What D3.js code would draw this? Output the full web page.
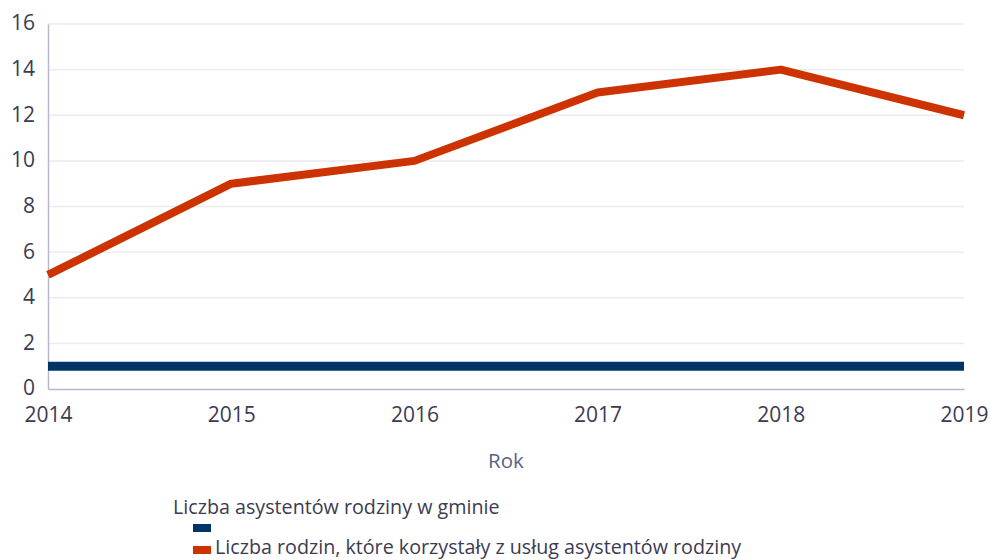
<!DOCTYPE html>
<html><head><meta charset="utf-8">
<script src="https://cdn.jsdelivr.net/npm/d3@7"></script>
<style>
body{margin:0;background:#fff;}
svg{display:block;font-family:"Open Sans",sans-serif;}
</style></head>
<body>
<svg id="chart" width="991" height="560"></svg>
<script>
const years = [2014, 2015, 2016, 2017, 2018, 2019];
const asystenci = [1, 1, 1, 1, 1, 1];
const rodziny = [5, 9, 10, 13, 14, 12];
const yTicks = [0, 2, 4, 6, 8, 10, 12, 14, 16];
const seriesNames = ["Liczba asystentów rodziny w gminie", "Liczba rodzin, które korzystały z usług asystentów rodziny"];
const seriesColors = ["#003366", "#cc3300"];
const xTitle = "Rok";

const svg = d3.select("#chart");
const x = d3.scalePoint().domain(years).range([48, 964]);
const y = d3.scaleLinear().domain([0, 16]).range([389, 24]);

// grid
svg.append("g").selectAll("line").data(yTicks.filter(d => d > 0)).join("line")
  .attr("x1", 48).attr("x2", 964)
  .attr("y1", d => y(d)).attr("y2", d => y(d))
  .attr("stroke", "#ebebf0").attr("stroke-width", 1.5);

// axes
const yAxis = svg.append("g").attr("transform", "translate(48,0)")
  .call(d3.axisLeft(y).tickValues(yTicks).tickSize(0).tickPadding(13));
yAxis.select(".domain").attr("stroke", "#b8b8cc").attr("stroke-width", 1.5);
yAxis.selectAll("text").attr("font-size", 21).attr("fill", "#3b3b52")
  .attr("font-family", "Open Sans").attr("dy", "0.28em");

const xAxis = svg.append("g").attr("transform", "translate(0,389)")
  .call(d3.axisBottom(x).tickSize(0).tickPadding(18.5));
xAxis.select(".domain").attr("stroke", "#b8b8cc").attr("stroke-width", 1.5);
xAxis.selectAll("text").attr("font-size", 21).attr("fill", "#3b3b52").attr("font-family", "Open Sans");

svg.append("text").attr("x", 506).attr("y", 468).attr("text-anchor", "middle")
  .attr("font-size", 20.5).attr("fill", "#5a5f86").text(xTitle);

// lines
const line = d3.line().x((d, i) => x(years[i])).y(d => y(d));
[asystenci, rodziny].forEach((s, i) => {
  svg.append("path").datum(s).attr("d", line)
    .attr("fill", "none").attr("stroke", seriesColors[i])
    .attr("stroke-width", i === 0 ? 9 : 8).attr("stroke-linejoin", "round");
});

// legend
svg.append("text").attr("x", 173).attr("y", 514).attr("font-size", 19.7).attr("fill", "#3b3b52").text(seriesNames[0]);
svg.append("rect").attr("x", 193).attr("y", 524).attr("width", 18).attr("height", 8).attr("fill", seriesColors[0]);
svg.append("rect").attr("x", 193).attr("y", 546).attr("width", 18).attr("height", 8).attr("fill", seriesColors[1]);
svg.append("text").attr("x", 215).attr("y", 554).attr("font-size", 19.7).attr("fill", "#3b3b52").text(seriesNames[1]);
</script>
</body></html>
